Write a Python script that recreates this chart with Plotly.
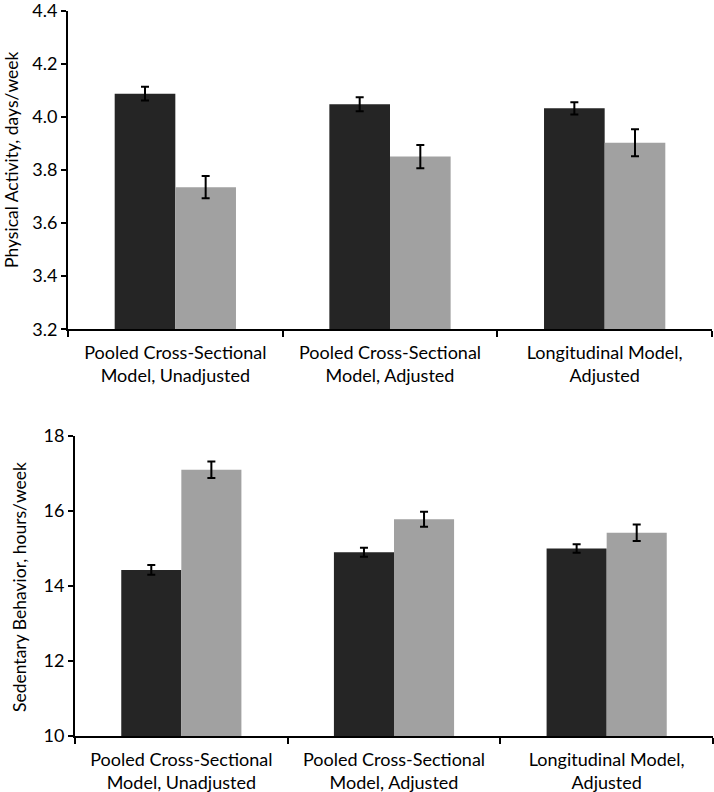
import plotly.graph_objects as go

categories = ["Pooled Cross-Sectional<br>Model, Unadjusted",
              "Pooled Cross-Sectional<br>Model, Adjusted",
              "Longitudinal Model,<br>Adjusted"]

pa_dark = [4.087, 4.047, 4.032]
pa_dark_err = [0.026, 0.026, 0.023]
pa_gray = [3.735, 3.850, 3.902]
pa_gray_err = [0.042, 0.044, 0.051]

sb_dark = [14.43, 14.90, 15.00]
sb_dark_err = [0.13, 0.12, 0.115]
sb_gray = [17.10, 15.78, 15.42]
sb_gray_err = [0.22, 0.20, 0.22]

pa_ticks = [3.2, 3.4, 3.6, 3.8, 4.0, 4.2, 4.4]
sb_ticks = [10, 12, 14, 16, 18]

DARK = "#252525"
GRAY = "#a1a1a1"
FONT = "Lato"

fig = go.Figure()

def add_bars(y, err, color, xa, ya):
    fig.add_trace(go.Bar(
        x=categories, y=y, marker=dict(color=color, line=dict(width=0)),
        error_y=dict(type="data", array=err, color="black", thickness=2, width=4),
        xaxis=xa, yaxis=ya, showlegend=False))

add_bars(pa_dark, pa_dark_err, DARK, "x", "y")
add_bars(pa_gray, pa_gray_err, GRAY, "x", "y")
add_bars(sb_dark, sb_dark_err, DARK, "x2", "y2")
add_bars(sb_gray, sb_gray_err, GRAY, "x2", "y2")

W, H = 714, 792
top_dom = [1 - 329.3 / H, 1 - 10.5 / H]
bot_dom = [1 - 736 / H, 1 - 436 / H]

xcommon = dict(type="category", showline=True, linecolor="black", linewidth=2,
               ticks="outside", tickson="boundaries", ticklen=6, tickwidth=1.5,
               tickcolor="black", showgrid=False, zeroline=False, automargin=False,
               ticklabelstandoff=6, ticklabeloverflow="allow",
               tickfont=dict(family=FONT, size=18, color="black"))
ycommon = dict(showline=True, linecolor="black", linewidth=2, ticks="outside",
               ticklen=5, tickwidth=1.5, tickcolor="black", showgrid=False,
               zeroline=False, automargin=False, ticklabeloverflow="allow",
               tickfont=dict(family=FONT, size=18, color="black"))

fig.update_layout(
    width=W, height=H, margin=dict(l=0, r=0, t=0, b=0),
    paper_bgcolor="white", plot_bgcolor="white",
    barmode="group", bargap=0.435, bargroupgap=0,
    xaxis=dict(domain=[68 / W, 712 / W], anchor="y", **xcommon),
    yaxis=dict(domain=top_dom, anchor="x", range=[3.2, 4.4], tickvals=pa_ticks,
               tickformat=".1f", **ycommon),
    xaxis2=dict(domain=[75 / W, 713 / W], anchor="y2", **xcommon),
    yaxis2=dict(domain=bot_dom, anchor="x2", range=[10, 18], tickvals=sb_ticks,
                **ycommon),
    annotations=[
        dict(text="Physical Activity, days/week", textangle=-90, x=12 / W,
             y=1 - 160 / H, xref="paper", yref="paper", showarrow=False,
             xanchor="center", yanchor="middle",
             font=dict(family=FONT, size=17.5, color="black")),
        dict(text="Sedentary Behavior, hours/week", textangle=-90, x=19 / W,
             y=1 - 587 / H, xref="paper", yref="paper", showarrow=False,
             xanchor="center", yanchor="middle",
             font=dict(family=FONT, size=17.5, color="black")),
    ],
)

fig.write_html("out.html",
               config={"displayModeBar": False},
               post_script="document.body.style.margin='0';"
                           "document.body.style.overflow='hidden';")
